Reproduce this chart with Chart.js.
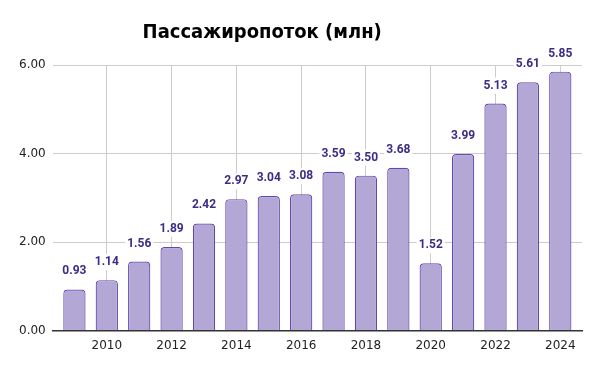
<!DOCTYPE html>
<html>
<head>
<meta charset="utf-8">
<script src="https://cdn.jsdelivr.net/npm/chart.js@4"></script>
<style>
  html, body { margin: 0; padding: 0; background: #ffffff; }
  #wrap { width: 600px; height: 371px; }
</style>
</head>
<body>
<div id="wrap"><canvas id="passengers"></canvas></div>
<script>
const years = ["2009", "2010", "2011", "2012", "2013", "2014", "2015", "2016",
  "2017", "2018", "2019", "2020", "2021", "2022", "2023", "2024"];
const passengers = [0.93, 1.14, 1.56, 1.89, 2.42, 2.97, 3.04, 3.08,
  3.59, 3.50, 3.68, 1.52, 3.99, 5.13, 5.61, 5.85];
const y_ticks = [0, 2, 4, 6];
const chart_title = "Пассажиропоток (млн)";

// values above bars (no datalabels plugin available offline)
const barValuePlugin = {
  id: "barValues",
  afterDatasetsDraw(chart) {
    const ctx = chart.ctx;
    const meta = chart.getDatasetMeta(0);
    ctx.save();
    ctx.font = "bold 12px Roboto, 'DejaVu Sans', sans-serif";
    ctx.textAlign = "center";
    ctx.textBaseline = "middle";
    meta.data.forEach((bar, i) => {
      const txt = passengers[i].toFixed(2);
      const w = ctx.measureText(txt).width;
      const y = bar.y - 18;
      // white box behind the label hides the grid
      ctx.fillStyle = "#ffffff";
      ctx.fillRect(bar.x - w / 2 - 2, y - 8, w + 4, 16);
      ctx.fillStyle = "#3d2c85";
      ctx.fillText(txt, bar.x, y);
    });
    ctx.restore();
  }
};

// title sits a bit left of centre in the original
const titlePlugin = {
  id: "offsetTitle",
  afterDraw(chart) {
    const ctx = chart.ctx;
    ctx.save();
    ctx.font = "bold 20px 'DejaVu Sans Condensed', 'DejaVu Sans', sans-serif";
    ctx.fillStyle = "#000000";
    ctx.textAlign = "center";
    ctx.textBaseline = "middle";
    ctx.fillText(chart_title, chart.width * 0.437, 33);
    ctx.restore();
  }
};

const ctx = document.getElementById("passengers").getContext("2d");

new Chart(ctx, {
  type: "bar",
  data: {
    labels: years,
    datasets: [{
      label: "Пассажиропоток",
      data: passengers,
      backgroundColor: "#b3a7d6",
      borderColor: "#6448b0",
      borderWidth: 1.2,
      borderRadius: 4,
      borderSkipped: "bottom",
      categoryPercentage: 0.8,
      barPercentage: 0.86
    }]
  },
  options: {
    responsive: true,
    maintainAspectRatio: false,
    animation: false,
    layout: { padding: { left: 12, right: 18, top: 65, bottom: 10 } },
    plugins: {
      legend: { display: false },
      tooltip: { enabled: false },
      title: { display: false }
    },
    scales: {
      x: {
        grid: { offset: false, color: "#cccccc", drawTicks: false },
        border: { color: "#333333", width: 1.5 },
        afterBuildTicks: (axis) => {
          axis.ticks = axis.ticks.filter(t => t.value % 2 === 1);
          // a little extra room at both ends, as in the original
          axis._startValue = -0.67;
          axis._valueRange = years.length + 0.34;
        },
        ticks: {
          autoSkip: false,
          maxRotation: 0,
          padding: 8,
          color: "#222222",
          font: { size: 12, family: "'DejaVu Sans', sans-serif" }
        }
      },
      y: {
        min: 0,
        max: 6,
        afterBuildTicks: (axis) => {
          axis.ticks = y_ticks.map(v => ({ value: v }));
        },
        grid: { color: "#cccccc", drawTicks: false },
        border: { display: false },
        ticks: {
          padding: 7,
          color: "#222222",
          font: { size: 12, family: "'DejaVu Sans', sans-serif" },
          callback: (v) => Number(v).toFixed(2)
        }
      }
    }
  },
  plugins: [barValuePlugin, titlePlugin]
});
</script>
</body>
</html>
